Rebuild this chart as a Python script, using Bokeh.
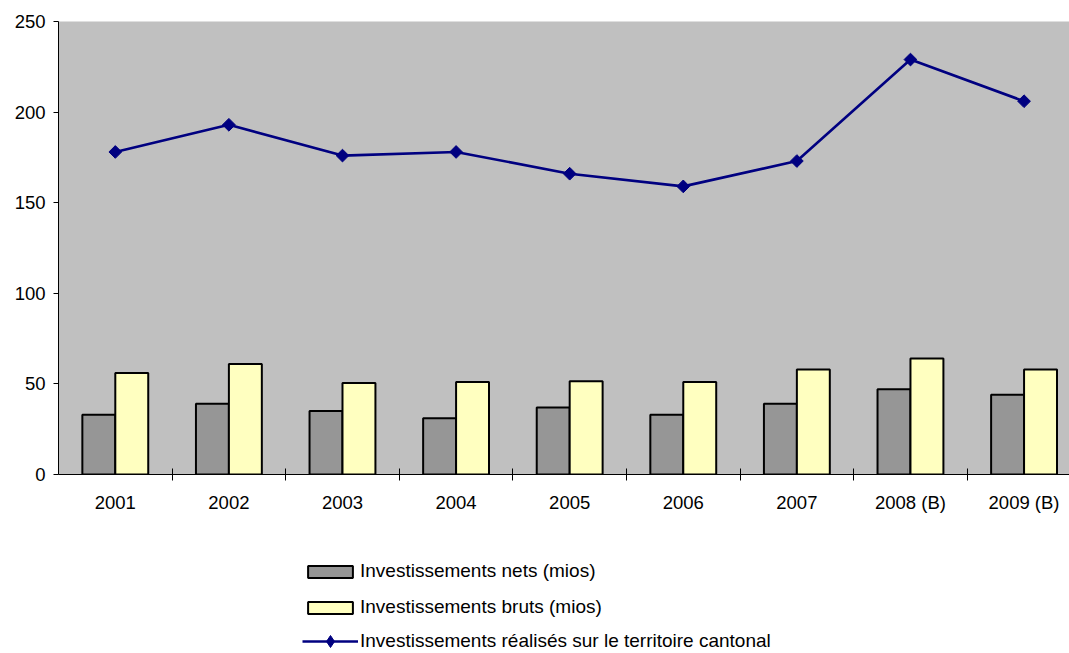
import math
from bokeh.plotting import figure
from bokeh.layouts import column
from bokeh.models import Range1d, FixedTicker, Legend, LegendItem, ColumnDataSource
from bokeh.transform import dodge
from bokeh.embed import file_html
from bokeh.resources import INLINE

years = ["2001", "2002", "2003", "2004", "2005", "2006", "2007", "2008 (B)", "2009 (B)"]
nets = [33, 39, 35, 31, 37, 33, 39, 47, 44]
bruts = [56, 61, 50.5, 51, 51.5, 51, 58, 64, 58]
territoire = [178, 193, 176, 178, 166, 159, 173, 229, 206]
y_ticks = [0, 50, 100, 150, 200, 250]
labels = ["Investissements nets (mios)", "Investissements bruts (mios)",
          "Investissements réalisés sur le territoire cantonal"]

xpos = [i + 0.5 for i in range(len(years))]
src = ColumnDataSource(data=dict(x=xpos, nets=nets, bruts=bruts, territoire=territoire))

FONT = "Liberation Sans"
NET_COLOR = "#969696"
BRUT_COLOR = "#FFFFC0"
LINE_COLOR = "#000080"

p = figure(width=1069, height=530, output_backend="svg", toolbar_location=None,
           x_range=Range1d(0, 8.9), y_range=Range1d(0, 250),
           min_border_left=58, min_border_right=0, min_border_top=21,
           min_border_bottom=56)

p.background_fill_color = "#C0C0C0"
p.border_fill_color = "white"
p.outline_line_color = None
p.grid.visible = False

xa = p.xaxis[0]
xa.ticker = FixedTicker(ticks=xpos, minor_ticks=list(range(1, 9)))
xa.major_label_overrides = {xv: lab for xv, lab in zip(xpos, years)}
xa.major_tick_line_color = None
xa.major_tick_in = 0
xa.major_tick_out = 0
xa.minor_tick_line_color = "black"
xa.minor_tick_in = 6
xa.minor_tick_out = 6
xa.axis_line_color = "black"
xa.major_label_standoff = 11
xa.major_label_text_font = FONT
xa.major_label_text_font_size = "18.5px"
xa.major_label_text_color = "black"

ya = p.yaxis[0]
ya.ticker = FixedTicker(ticks=y_ticks, minor_ticks=[])
ya.major_tick_in = 0
ya.major_tick_out = 5
ya.major_tick_line_color = "black"
ya.minor_tick_line_color = None
ya.axis_line_color = "black"
ya.major_label_standoff = 8
ya.major_label_text_font = FONT
ya.major_label_text_font_size = "18.5px"
ya.major_label_text_color = "black"

p.vbar(x=dodge("x", -0.145, range=p.x_range), top="nets", width=0.29, bottom=0,
       source=src, fill_color=NET_COLOR, line_color="black", line_width=2)
p.vbar(x=dodge("x", 0.145, range=p.x_range), top="bruts", width=0.29, bottom=0,
       source=src, fill_color=BRUT_COLOR, line_color="black", line_width=2)
p.line("x", "territoire", source=src, line_color=LINE_COLOR, line_width=2.6)
p.scatter("x", "territoire", source=src, marker="square", angle=math.pi / 4,
          size=9, fill_color=LINE_COLOR, line_color=LINE_COLOR)

# legend panel: a separate figure below the chart whose ranges keep the data
# out of view, so that only the legend entries are visible
pl = figure(width=1069, height=123, output_backend="svg", toolbar_location=None,
            x_range=Range1d(-100, -91.1), y_range=Range1d(1000, 2000),
            x_axis_location=None, y_axis_location=None,
            min_border_left=58, min_border_right=0, min_border_top=0, min_border_bottom=0)
pl.outline_line_color = None
pl.grid.visible = False
pl.background_fill_color = "white"
pl.border_fill_color = "white"

l_net = pl.vbar(x="x", top="nets", width=0.29, bottom=0, source=src,
                fill_color=NET_COLOR, line_color="black", line_width=2)
l_brut = pl.vbar(x="x", top="bruts", width=0.29, bottom=0, source=src,
                 fill_color=BRUT_COLOR, line_color="black", line_width=2)
l_line = pl.line("x", "territoire", source=src, line_color=LINE_COLOR, line_width=2.6)
l_pts = pl.scatter("x", "territoire", source=src, marker="diamond",
                   size=9, fill_color=LINE_COLOR, line_color=LINE_COLOR)


def style_legend(lg, glyph_h):
    lg.background_fill_alpha = 0
    lg.border_line_color = None
    lg.padding = 0
    lg.margin = 0
    lg.spacing = 14
    lg.glyph_width = 56
    lg.glyph_height = glyph_h
    lg.label_standoff = 2
    lg.label_height = 22
    lg.label_text_font = FONT
    lg.label_text_font_size = "19px"
    lg.label_text_color = "black"


legend_bars = Legend(items=[
    LegendItem(label=labels[0], renderers=[l_net]),
    LegendItem(label=labels[1], renderers=[l_brut]),
], location=(244, 35))
style_legend(legend_bars, 15)

legend_line = Legend(items=[
    LegendItem(label=labels[2], renderers=[l_line, l_pts]),
], location=(244, -3))
style_legend(legend_line, 30)

pl.add_layout(legend_bars, "center")
pl.add_layout(legend_line, "center")

layout = column(p, pl, spacing=0)
open("out.html", "w").write(file_html(layout, INLINE))
